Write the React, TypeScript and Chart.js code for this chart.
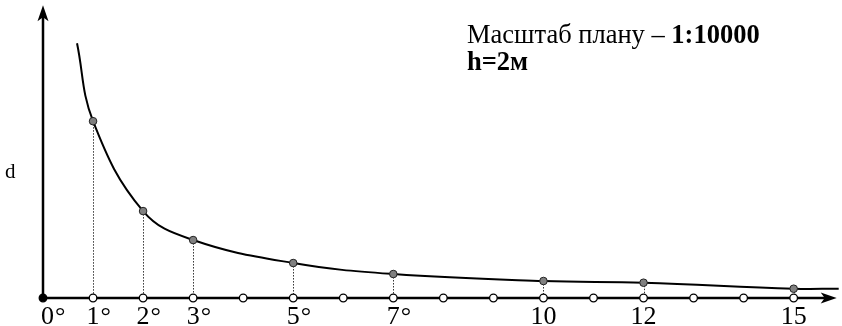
import React, { useEffect, useRef } from "react";
import { Chart, registerables } from "chart.js";

Chart.register(...registerables);

// Curve d(angle): angles in degrees, d in drawing units
const curveAngles = [0.68, 1, 2, 3, 5, 7, 10, 12, 15, 15.9];
const curveD = [255, 177, 87, 58, 35, 24, 17, 15.3, 9.3, 9.3];
// which curve points are marked
const markedAngles = [1, 2, 3, 5, 7, 10, 12, 15];
// x-axis degree markers
const axisMarks = [0, 1, 2, 3, 4, 5, 6, 7, 8, 9, 10, 11, 12, 13, 14, 15];
// x-axis labels
const labelAngles = [0, 1, 2, 3, 5, 7, 10, 12, 15];
const labelTexts = ["0", "1", "2", "3", "5", "7", "10", "12", "15"];
const labelDegree = [true, true, true, true, true, true, false, false, false];

const yLabel = "d";
const noteLine1 = "Масштаб плану – ";
const noteLine1Bold = "1:10000";
const noteLine2Bold = "h=2м";

const X_MAX = 15.86;
const Y_MAX = 293;
const SERIF = '"Liberation Serif", "DejaVu Serif", serif';

export default function App() {
  const ref = useRef<HTMLCanvasElement>(null);

  useEffect(() => {
    document.body.style.margin = "0";
    const canvas = ref.current;
    if (!canvas) return;

    const decor = {
      id: "decor",
      beforeDatasetsDraw(chart: any) {
        const { ctx, scales } = chart;
        const xs = scales.x;
        const ys = scales.y;
        const x0 = xs.getPixelForValue(0);
        const y0 = ys.getPixelForValue(0);
        const xEnd = xs.getPixelForValue(X_MAX);
        const yTop = ys.getPixelForValue(Y_MAX);
        ctx.save();
        // dotted drop lines
        ctx.strokeStyle = "#333";
        ctx.lineWidth = 1;
        ctx.setLineDash([1.5, 1.5]);
        markedAngles.forEach((a) => {
          const i = curveAngles.indexOf(a);
          const px = Math.round(xs.getPixelForValue(a)) + 0.5;
          ctx.beginPath();
          ctx.moveTo(px, ys.getPixelForValue(curveD[i]));
          ctx.lineTo(px, y0);
          ctx.stroke();
        });
        ctx.setLineDash([]);
        // axes
        ctx.strokeStyle = "#000";
        ctx.lineWidth = 2.5;
        ctx.beginPath();
        ctx.moveTo(x0, y0);
        ctx.lineTo(xEnd - 8, y0);
        ctx.moveTo(x0, y0);
        ctx.lineTo(x0, yTop + 8);
        ctx.stroke();
        ctx.fillStyle = "#000";
        // y arrow
        ctx.beginPath();
        ctx.moveTo(x0, yTop);
        ctx.lineTo(x0 - 5.5, yTop + 16);
        ctx.lineTo(x0, yTop + 12);
        ctx.lineTo(x0 + 5.5, yTop + 16);
        ctx.closePath();
        ctx.fill();
        // x arrow
        ctx.beginPath();
        ctx.moveTo(xEnd, y0);
        ctx.lineTo(xEnd - 16, y0 - 5.5);
        ctx.lineTo(xEnd - 12, y0);
        ctx.lineTo(xEnd - 16, y0 + 5.5);
        ctx.closePath();
        ctx.fill();
        ctx.restore();
      },
      afterDraw(chart: any) {
        const { ctx, scales } = chart;
        const xs = scales.x;
        ctx.save();
        ctx.fillStyle = "#000";
        ctx.textBaseline = "alphabetic";
        ctx.font = `26px ${SERIF}`;
        labelAngles.forEach((a, i) => {
          const px = xs.getPixelForValue(a);
          const t = labelTexts[i];
          const w = ctx.measureText(t).width;
          const left = a === 0 ? px - 2 : px - w / 2;
          ctx.textAlign = "left";
          ctx.fillText(t, left, 324);
          if (labelDegree[i]) ctx.fillText("°", left + w + 1, 324);
        });
        ctx.font = `21px ${SERIF}`;
        ctx.textAlign = "left";
        ctx.fillText(yLabel, 5, 178);
        ctx.font = `26.5px ${SERIF}`;
        ctx.fillText(noteLine1, 467, 43);
        const w1 = ctx.measureText(noteLine1).width;
        ctx.font = `bold 26.5px ${SERIF}`;
        ctx.fillText(noteLine1Bold, 467 + w1, 43);
        ctx.fillText(noteLine2Bold, 467, 70);
        ctx.restore();
      },
    };

    const chart = new Chart(canvas, {
      type: "scatter",
      data: {
        datasets: [
          {
            data: curveAngles.map((a, i) => ({ x: a, y: curveD[i] })),
            showLine: true,
            borderColor: "#000",
            borderWidth: 2,
            tension: 0.4,
            pointRadius: curveAngles.map((a) => (markedAngles.includes(a) ? 3.8 : 0)),
            pointBackgroundColor: "#808080",
            pointBorderColor: "#222",
            pointBorderWidth: 1,
          } as any,
          {
            data: axisMarks.map((a) => ({ x: a, y: 0 })),
            showLine: false,
            pointRadius: 3.8,
            pointBackgroundColor: axisMarks.map((a) => (a === 0 ? "#000" : "#fff")),
            pointBorderColor: "#000",
            pointBorderWidth: 1.3,
          },
        ],
      },
      options: {
        animation: false,
        responsive: false,
        layout: { padding: { left: 43, right: 4, top: 5, bottom: 28 } },
        scales: {
          x: { type: "linear", min: 0, max: X_MAX, display: false },
          y: { type: "linear", min: 0, max: Y_MAX, display: false },
        },
        plugins: { legend: { display: false }, tooltip: { enabled: false } },
        clip: false as any,
      },
      plugins: [decor],
    });
    return () => chart.destroy();
  }, []);

  return <canvas ref={ref} width={842} height={326} style={{ display: "block" }} />;
}
